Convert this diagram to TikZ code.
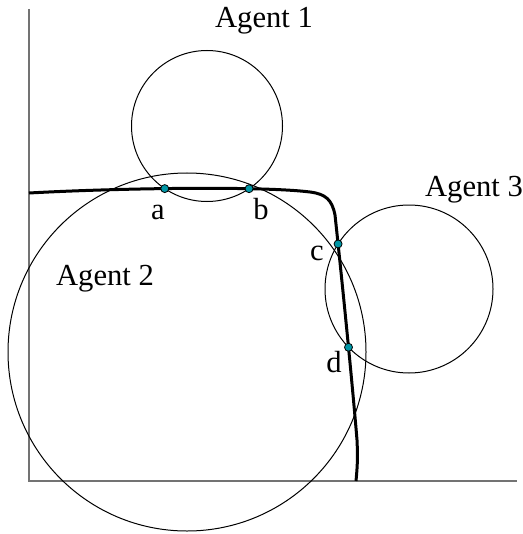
\documentclass[tikz,border=0pt]{standalone}
\usepackage{fontspec}
\setmainfont{Liberation Serif}
\usetikzlibrary{intersections}
\definecolor{dotteal}{RGB}{0,150,165}

\begin{document}
\begin{tikzpicture}[x=0.5pt, y=-0.5pt, font=\fontsize{15.3}{18}\selectfont,
  agent/.style={draw, line width=0.5pt},
  axisline/.style={draw=black!55, line width=0.75pt},
  front/.style={draw, line width=1.5pt},
  contact/.style={circle, draw, fill=dotteal, inner sep=0pt, minimum size=4pt, line width=0.4pt},
  lbl/.style={anchor=base}]
\useasboundingbox (0,0) rectangle (523,534);
% axes
\coordinate (origin) at (29,481);
\coordinate (ytop) at (29,9);
\coordinate (xend) at (517,481);
\draw[axisline] (ytop) -- (origin) -- (xend);
% agents
\draw[agent, name path=one] (207,126) circle[radius=75.5];
\draw[agent, name path=two] (187,352) circle[radius=179];
\draw[agent, name path=three] (409,289) circle[radius=84];
\node[lbl] (agentone) at (264,28) {Agent 1};
\node[lbl] (agenttwo) at (105,285) {Agent 2};
\node[lbl] (agentthree) at (474,196) {Agent 3};
% boundary curve
\draw[front, name path=frontline] (origin |- 0,193)
  .. controls (120,188) and (262,186) .. (310,192)
  .. controls (326,194) and (332,200) .. (335,215)
  .. controls (342,280) and (352,380) .. (357,440)
  .. controls (358,460) and (357,470) .. (356,481);
% contact points
\path[name intersections={of=frontline and one, sort by=frontline, name=ab}];
\path[name intersections={of=frontline and three, sort by=frontline, name=cd}];
\node[contact] (pa) at (ab-1) {};
\node[contact] (pb) at (ab-2) {};
\node[contact] (pc) at (cd-1) {};
\node[contact] (pd) at (cd-2) {};
\node[lbl] (la) at (158,220) {a};
\node[lbl] (lb) at (261,220) {b};
\node[lbl] (lc) at (317,260) {c};
\node[lbl] (ld) at (334,372) {d};
\end{tikzpicture}
\end{document}
